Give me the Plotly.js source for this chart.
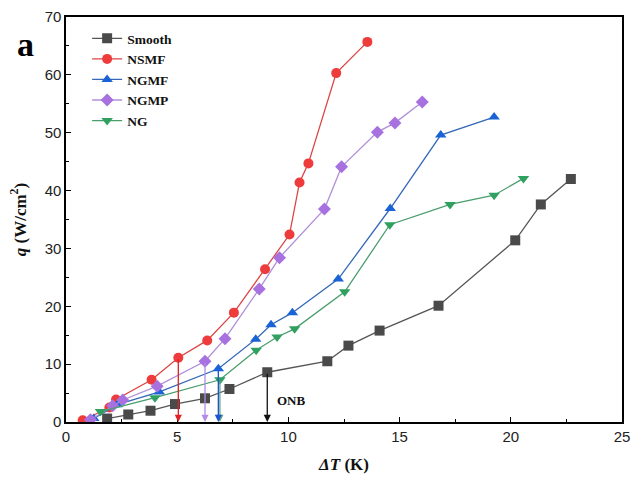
<!DOCTYPE html>
<html>
<head>
<meta charset="utf-8">
<script src="https://cdn.plot.ly/plotly-3.0.1.min.js"></script>
<style>
  html, body { margin: 0; padding: 0; background: #fff; }
  #chart { width: 632px; height: 486px; }
</style>
</head>
<body>
<div id="chart"></div>
<script>
// Boiling curves: heat flux q versus wall superheat ΔT for each surface
const smoothX = [1.85, 2.8, 3.8, 4.9, 6.25, 7.35, 9.05, 11.75, 12.7, 14.1, 16.75, 20.2, 21.35, 22.7];
const smoothY = [0.6, 1.3, 1.95, 3.1, 4.1, 5.7, 8.6, 10.5, 13.2, 15.8, 20.1, 31.4, 37.6, 42.0];

const nsmfX = [0.75, 1.95, 2.25, 3.85, 5.05, 6.35, 7.55, 8.95, 10.05, 10.5, 10.9, 12.15, 13.55];
const nsmfY = [0.3, 2.5, 3.9, 7.3, 11.1, 14.1, 18.9, 26.4, 32.4, 41.4, 44.7, 60.3, 65.7];

const ngmfX = [1.25, 2.3, 4.2, 6.85, 8.53, 9.22, 10.18, 12.24, 14.58, 16.85, 19.25];
const ngmfY = [0.6, 3.0, 5.2, 9.2, 14.3, 16.8, 18.9, 24.7, 36.9, 49.6, 52.7];

const ngmpX = [1.1, 2.1, 2.55, 4.1, 6.25, 7.15, 8.69, 9.6, 11.62, 12.39, 14.0, 14.79, 16.02];
const ngmpY = [0.4, 2.8, 3.8, 6.2, 10.5, 14.4, 23.0, 28.4, 36.8, 44.1, 50.1, 51.7, 55.3];

const ngX = [1.55, 4.0, 6.92, 8.55, 9.49, 10.28, 12.53, 14.56, 17.27, 19.25, 20.57];
const ngY = [1.8, 4.2, 7.3, 12.4, 14.7, 16.1, 22.5, 34.1, 37.6, 39.2, 42.1];

const seriesNames = ['Smooth', 'NSMF', 'NGMF', 'NGMP', 'NG'];
const xTickVals = [0, 5, 10, 15, 20, 25];
const yTickVals = [0, 10, 20, 30, 40, 50, 60, 70];

// index of the onset-of-boiling point on each curve
const onsetIndex = { Smooth: 6, NSMF: 4, NGMF: 3, NGMP: 4, NG: 2 };

const styles = {
  Smooth: { marker: '#4a4a4a', line: '#555555', symbol: 'square' },
  NSMF:   { marker: '#ee3b3b', line: '#dd4444', symbol: 'circle' },
  NGMF:   { marker: '#1a63d6', line: '#3568b8', symbol: 'triangle-up' },
  NGMP:   { marker: '#a772e0', line: '#b08fd8', symbol: 'diamond' },
  NG:     { marker: '#2fa060', line: '#4a9e6c', symbol: 'triangle-down' }
};

const dataXY = {
  Smooth: [smoothX, smoothY],
  NSMF: [nsmfX, nsmfY],
  NGMF: [ngmfX, ngmfY],
  NGMP: [ngmpX, ngmpY],
  NG: [ngX, ngY]
};

const traces = seriesNames.map(name => ({
  type: 'scatter',
  mode: 'lines+markers',
  name: name,
  x: dataXY[name][0],
  y: dataXY[name][1],
  line: { color: styles[name].line, width: 1.3 },
  marker: { color: styles[name].marker, symbol: styles[name].symbol, size: 10 }
}));

// draw the onset arrows back to front so the later series sit on top
const arrowOrder = ['NG', 'NGMF', 'NGMP', 'NSMF', 'Smooth'];
const arrowColors = { Smooth: '#111111', NSMF: '#e02020', NGMF: '#1a55d0', NGMP: '#b48ce6', NG: '#6aa488' };
const annotations = arrowOrder.map(name => {
  const i = onsetIndex[name];
  const px = dataXY[name][0][i];
  const py = dataXY[name][1][i];
  return {
    x: px, y: 0, xref: 'x', yref: 'y',
    ax: px, ay: py, axref: 'x', ayref: 'y',
    text: '', showarrow: true,
    arrowhead: 2, arrowsize: 1.1, arrowwidth: 1.3,
    arrowcolor: arrowColors[name], standoff: 0, startstandoff: 0
  };
});

annotations.push({
  x: 10.15, y: 3.8, xref: 'x', yref: 'y',
  text: '<b>ONB</b>', showarrow: false,
  font: { family: 'Liberation Serif, Times New Roman, serif', size: 13, color: '#111' }
});

annotations.push({
  x: 25, y: 45, xref: 'paper', yref: 'paper',
  xanchor: 'center', yanchor: 'middle',
  text: '<b>a</b>', showarrow: false,
  font: { family: 'Liberation Serif, Times New Roman, serif', size: 34, color: '#000' }
});

const layout = {
  width: 632,
  height: 486,
  margin: { l: 66, r: 10, t: 17, b: 64 },
  paper_bgcolor: '#ffffff',
  plot_bgcolor: '#ffffff',
  showlegend: true,
  legend: {
    x: 0.038, y: 0.985, xanchor: 'left', yanchor: 'top',
    bgcolor: 'rgba(0,0,0,0)',
    font: { family: 'Liberation Serif, Times New Roman, serif', size: 13.5, color: '#111', weight: 'bold' },
    tracegroupgap: 0,
    itemwidth: 30
  },
  xaxis: {
    range: [0, 25],
    tickvals: xTickVals,
    ticks: 'inside', ticklen: 5, tickwidth: 1.2, tickcolor: '#000',
    minor: { dtick: 2.5, ticks: 'inside', ticklen: 3, tickwidth: 1, tickcolor: '#000' },
    showline: true, linecolor: '#000', linewidth: 1.6, mirror: true,
    showgrid: false, zeroline: false,
    tickfont: { family: 'Liberation Sans, Arial, sans-serif', size: 15, color: '#222' },
    title: {
      text: '<b><i>ΔT</i> (K)</b>',
      font: { family: 'Liberation Serif, Times New Roman, serif', size: 17, color: '#111' },
      standoff: 14
    }
  },
  yaxis: {
    range: [0, 70],
    tickvals: yTickVals,
    ticks: 'inside', ticklen: 5, tickwidth: 1.2, tickcolor: '#000',
    minor: { dtick: 5, ticks: 'inside', ticklen: 3, tickwidth: 1, tickcolor: '#000' },
    showline: true, linecolor: '#000', linewidth: 1.6, mirror: true,
    showgrid: false, zeroline: false,
    tickfont: { family: 'Liberation Sans, Arial, sans-serif', size: 15, color: '#222' },
    title: {
      text: '<b><i>q</i> (W/cm<sup>2</sup>)</b>',
      font: { family: 'Liberation Serif, Times New Roman, serif', size: 17, color: '#111' },
      standoff: 14
    }
  },
  annotations: annotations
};

// place the panel letter in pixel terms relative to the plot area
const plotW = layout.width - layout.margin.l - layout.margin.r;
const plotH = layout.height - layout.margin.t - layout.margin.b;
const letter = annotations[annotations.length - 1];
letter.x = (letter.x - layout.margin.l) / plotW;
letter.y = 1 - (letter.y - layout.margin.t) / plotH;

Plotly.newPlot('chart', traces, layout, { displayModeBar: false, staticPlot: true });
</script>
</body>
</html>
